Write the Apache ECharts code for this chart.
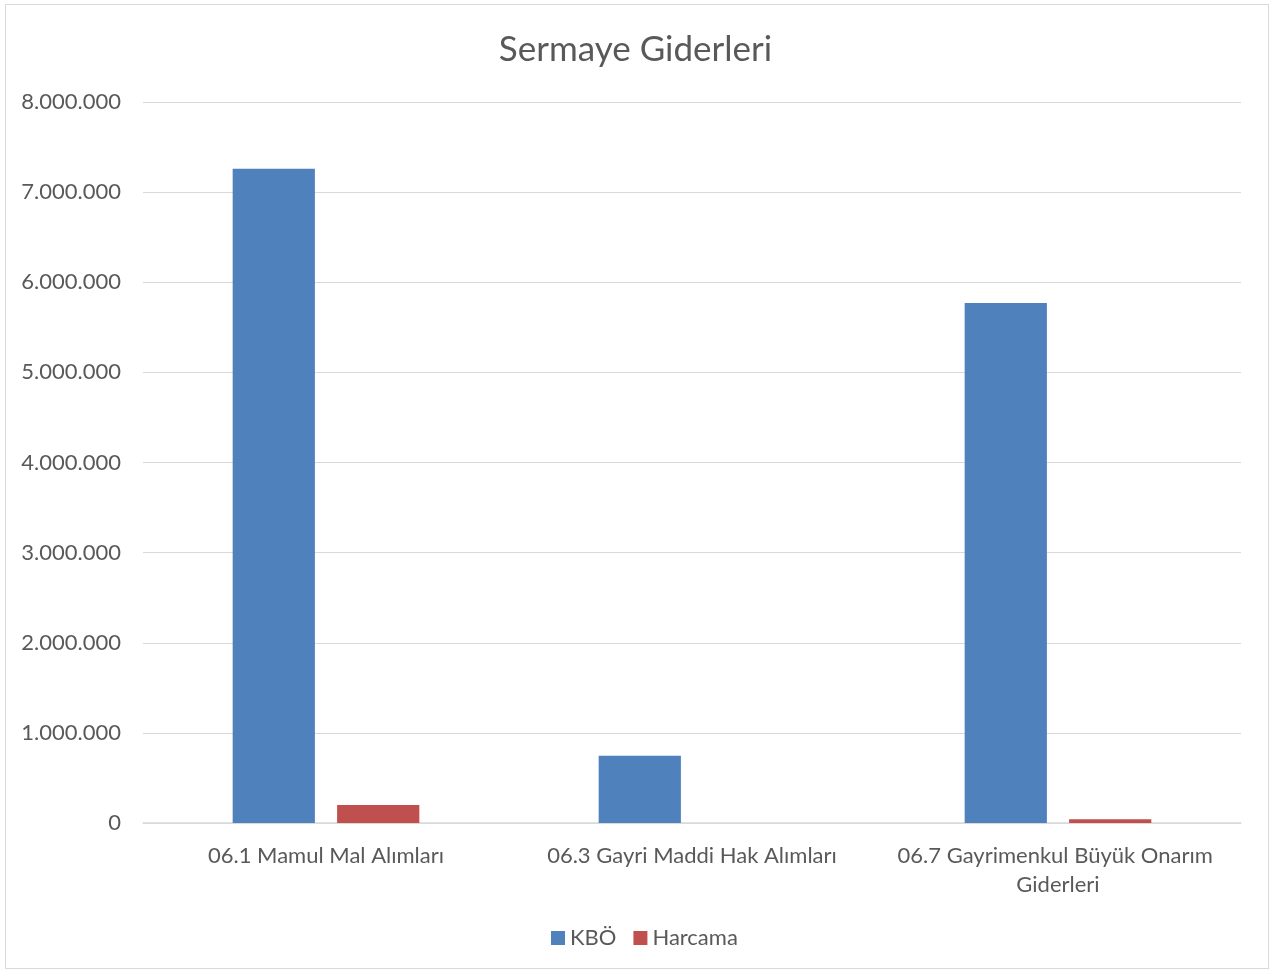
<!DOCTYPE html>
<html>
<head>
<meta charset="utf-8">
<script src="https://cdn.jsdelivr.net/npm/echarts@6/dist/echarts.min.js"></script>
<style>
html,body{margin:0;padding:0;background:#fff;}
#c{position:absolute;left:0;top:0;width:1271px;height:971px;}
#frame{position:absolute;left:5px;top:4px;width:1264px;height:965px;border:1px solid #d9d9d9;pointer-events:none;box-sizing:border-box;}
</style>
</head>
<body>
<div id="c"></div>
<div id="frame"></div>
<script>
const title = "Sermaye Giderleri";
const categories = ["06.1 Mamul Mal Alımları", "06.3 Gayri Maddi Hak Alımları", "06.7 Gayrimenkul Büyük Onarım Giderleri"];
const seriesNames = ["KBÖ", "Harcama"];
const kboValues = [7260000, 745000, 5770000];
const harcamaValues = [200000, 0, 42000];
const yMin = 0, yMax = 8000000, yStep = 1000000;

const font = "Lato, 'Open Sans', sans-serif";
function fmt(v){ return String(Math.round(v)).replace(/\B(?=(\d{3})+(?!\d))/g, "."); }

const chart = echarts.init(document.getElementById('c'), null, {renderer:'canvas'});
chart.setOption({
  animation:false,
  backgroundColor:'#ffffff',
  title:{text:title,left:'center',top:27,textStyle:{fontFamily:font,fontSize:35,fontWeight:'normal',color:'#595959'}},
  grid:{left:143,right:30,top:102,bottom:148},
  legend:{bottom:17,left:546,itemWidth:14,itemHeight:14,itemGap:17,icon:'rect',
    textStyle:{fontFamily:font,fontSize:22,color:'#595959'},data:seriesNames},
  xAxis:{type:'category',data:categories,
    axisLine:{lineStyle:{color:'#d9d9d9',width:1.5}},axisTick:{show:false},
    axisLabel:{fontFamily:font,fontSize:22,color:'#595959',margin:18,width:364,overflow:'break',lineHeight:29,interval:0}},
  yAxis:{type:'value',min:yMin,max:yMax,interval:yStep,
    axisLine:{show:false},axisTick:{show:false},
    splitLine:{lineStyle:{color:'#d9d9d9',width:1.2}},
    axisLabel:{fontFamily:font,fontSize:22,color:'#595959',margin:22,formatter:fmt}},
  series:[
    {name:seriesNames[0],type:'bar',data:kboValues,itemStyle:{color:'#4f81bd'},barGap:'27%',barCategoryGap:'49%'},
    {name:seriesNames[1],type:'bar',data:harcamaValues,itemStyle:{color:'#c0504d'},barGap:'27%',barCategoryGap:'49%'}
  ]
});
</script>
</body>
</html>
